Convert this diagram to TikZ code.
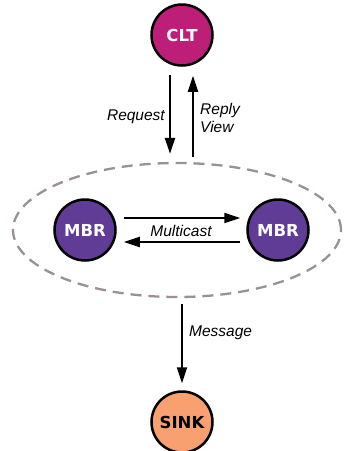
\documentclass[tikz,border=0pt]{standalone}
\usepackage{fontspec}
\setmainfont{Liberation Sans}
\newfontfamily\procfont{DejaVu Sans}
\usetikzlibrary{arrows.meta,positioning,shapes.geometric}
\definecolor{cltmagenta}{RGB}{188,30,120}
\definecolor{mbrpurple}{RGB}{96,60,150}
\definecolor{sinkorange}{RGB}{248,160,112}
\definecolor{groupgrey}{RGB}{155,145,145}

\begin{document}
\begin{tikzpicture}[x=1pt,y=-1pt,
  proc/.style={circle, draw=black, line width=2.5pt, minimum size=61pt, inner sep=0pt,
    text=white, font=\procfont\fontsize{16.5}{16.5}\selectfont\bfseries},
  arr/.style={line width=2.2pt, -{Triangle[length=16pt,width=10pt]}},
  lbl/.style={font=\fontsize{15.5}{18}\selectfont\itshape, inner sep=0pt}]
\useasboundingbox (0,0) rectangle (344,451);
% Group of members
\node[ellipse, draw=groupgrey, line width=2.3pt, dash pattern=on 11pt off 7pt,
      minimum width=328pt, minimum height=134pt] (grp) at (177,230) {};
% Processes
\node[proc, fill=cltmagenta] (clt) at (182,35) {CLT};
\node[proc, fill=mbrpurple] (mbrl) at (85,230) {MBR};
\node[proc, fill=mbrpurple] (mbrr) at (278,230) {MBR};
\node[proc, fill=sinkorange, text=black] (sink) at (182,422) {SINK};
% Client <-> group
\coordinate (reqtop) at ([xshift=-12pt,yshift=-8pt]clt.south);
\coordinate (reptop) at ([xshift=11pt,yshift=-9pt]clt.south);
\draw[arr] (reqtop) -- ([yshift=8pt]reqtop |- grp.north);
\draw[arr] ([yshift=5pt]reptop |- grp.north) -- (reptop);
\node[lbl, anchor=east] (req) at (165,117) {Request};
\node[lbl, anchor=west, align=left] (rep) at (200,118) {Reply\\View};
% Multicast between members
\draw[arr, shorten <=7pt, shorten >=6pt] ([yshift=12pt]mbrl.east) -- ([yshift=12pt]mbrr.west);
\draw[arr, shorten <=6pt, shorten >=7pt] ([yshift=-12pt]mbrr.west) -- ([yshift=-12pt]mbrl.east);
\node[lbl] (mc) at (181,231) {Multicast};
% Group -> sink
\draw[arr, shorten <=6pt, shorten >=7pt] (grp.south -| sink.north) -- (sink.north);
\node[lbl, anchor=west] (msg) at (189,333) {Message};
\end{tikzpicture}
\end{document}
